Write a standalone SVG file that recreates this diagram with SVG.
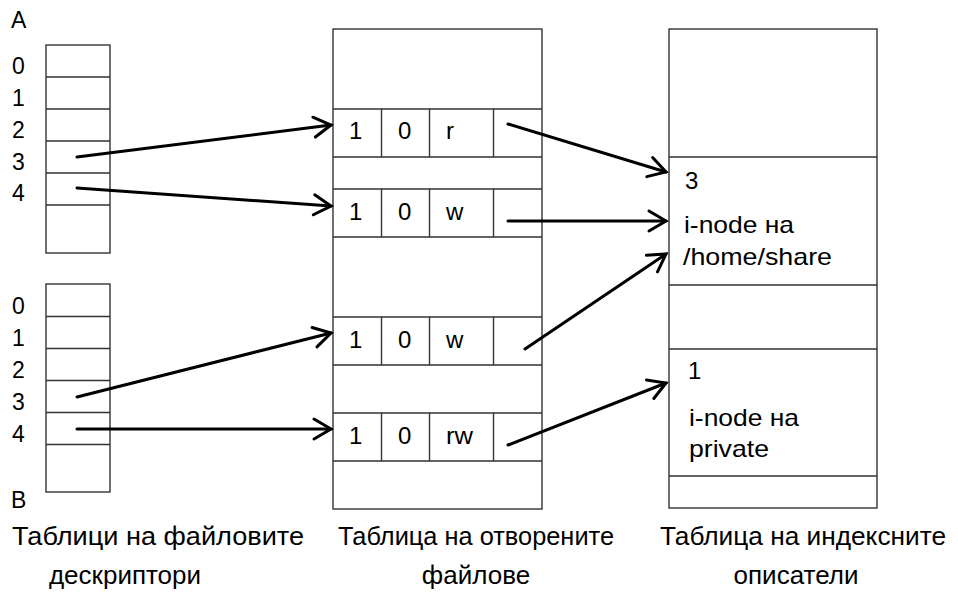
<svg xmlns="http://www.w3.org/2000/svg" width="958" height="593" viewBox="0 0 958 593">
<style>
text{font-family:"Liberation Sans",Arial,sans-serif;font-size:23px;fill:#000}
.big{font-size:24px}
.lbl{font-size:26px}
.mid{text-anchor:middle}
.tb{fill:#fff;stroke:#333;stroke-width:1.4}
.ln{stroke:#333;stroke-width:1.4;fill:none}
.ar{stroke:#000;stroke-width:3;fill:none;stroke-linecap:round;marker-end:url(#ah)}
</style>
<defs>
<marker id="ah" markerUnits="userSpaceOnUse" viewBox="-20 -14 24 28" markerWidth="24" markerHeight="28" refX="0" refY="0" orient="auto" overflow="visible">
<path d="M-17,-10 L0,0 L-17,10" fill="none" stroke="#000" stroke-width="3" stroke-linecap="round" stroke-linejoin="miter"/>
</marker>
</defs>
<rect width="958" height="593" fill="#fff"/>

<g id="tableA">
<text x="11" y="28" font-size="24">A</text>
<rect class="tb" x="46" y="45" width="64" height="208"/>
<path class="ln" d="M46,77H110M46,109H110M46,141H110M46,173H110M46,205H110"/>
<text x="12" y="74">0</text>
<text x="12" y="106">1</text>
<text x="12" y="137.5">2</text>
<text x="12" y="169.5">3</text>
<text x="12" y="201">4</text>
</g>

<g id="tableB">
<rect class="tb" x="46" y="284" width="64" height="208"/>
<path class="ln" d="M46,316.5H110M46,348.5H110M46,380.5H110M46,412.5H110M46,444.5H110"/>
<text x="12" y="313.5">0</text>
<text x="12" y="346">1</text>
<text x="12" y="377.5">2</text>
<text x="12" y="410">3</text>
<text x="12" y="442">4</text>
<text x="11" y="508" font-size="24">B</text>
</g>

<g id="openFiles">
<rect class="tb" x="333" y="29" width="209" height="480"/>
<path class="ln" d="M333,109H542M333,157H542M333,189H542M333,237H542M333,317H542M333,365H542M333,413H542M333,461H542"/>
<path class="ln" d="M381.5,109V157M429.5,109V157M493.5,109V157M381.5,189V237M429.5,189V237M493.5,189V237M381.5,317V365M429.5,317V365M493.5,317V365M381.5,413V461M429.5,413V461M493.5,413V461"/>
<text class="big" x="349" y="139">1</text><text class="big" x="398" y="139">0</text><text class="big" x="446" y="139">r</text>
<text class="big" x="349" y="220">1</text><text class="big" x="398" y="220">0</text><text class="big" x="446" y="220">w</text>
<text class="big" x="349" y="348">1</text><text class="big" x="398" y="348">0</text><text class="big" x="446" y="348">w</text>
<text class="big" x="349" y="444">1</text><text class="big" x="398" y="444">0</text><text class="big" x="446" y="444" textLength="27" lengthAdjust="spacingAndGlyphs">rw</text>
</g>

<g id="inodes">
<rect class="tb" x="669" y="29" width="208" height="479"/>
<path class="ln" d="M669,157H877M669,285H877M669,349H877M669,476H877"/>
<text class="big" x="685" y="189">3</text>
<text class="big" x="684" y="233" textLength="110" lengthAdjust="spacingAndGlyphs">i-node на</text>
<text class="big" x="683" y="265" textLength="149" lengthAdjust="spacingAndGlyphs">/home/share</text>
<text class="big" x="688" y="379">1</text>
<text class="big" x="689" y="426" textLength="110" lengthAdjust="spacingAndGlyphs">i-node на</text>
<text class="big" x="689" y="457" textLength="80" lengthAdjust="spacingAndGlyphs">private</text>
</g>

<g id="connectors">
<line class="ar" x1="77" y1="157" x2="331" y2="125"/>
<line class="ar" x1="77" y1="188" x2="331" y2="206"/>
<line class="ar" x1="77" y1="397" x2="331" y2="333"/>
<line class="ar" x1="77" y1="429" x2="331" y2="429"/>
<line class="ar" x1="508" y1="124" x2="666" y2="172"/>
<line class="ar" x1="508" y1="221" x2="666" y2="221"/>
<line class="ar" x1="525" y1="349" x2="666" y2="254"/>
<line class="ar" x1="508" y1="445" x2="666" y2="383"/>
</g>

<g id="captions">
<text class="lbl" x="12" y="545" textLength="292" lengthAdjust="spacingAndGlyphs">Таблици на файловите</text>
<text class="lbl mid" x="125" y="584">дескриптори</text>
<text class="lbl" x="338" y="545" textLength="276" lengthAdjust="spacingAndGlyphs">Таблица на отворените</text>
<text class="lbl mid" x="476" y="584">файлове</text>
<text class="lbl" x="660" y="545" textLength="286" lengthAdjust="spacingAndGlyphs">Таблица на индексните</text>
<text class="lbl mid" x="796" y="584">описатели</text>
</g>
</svg>
